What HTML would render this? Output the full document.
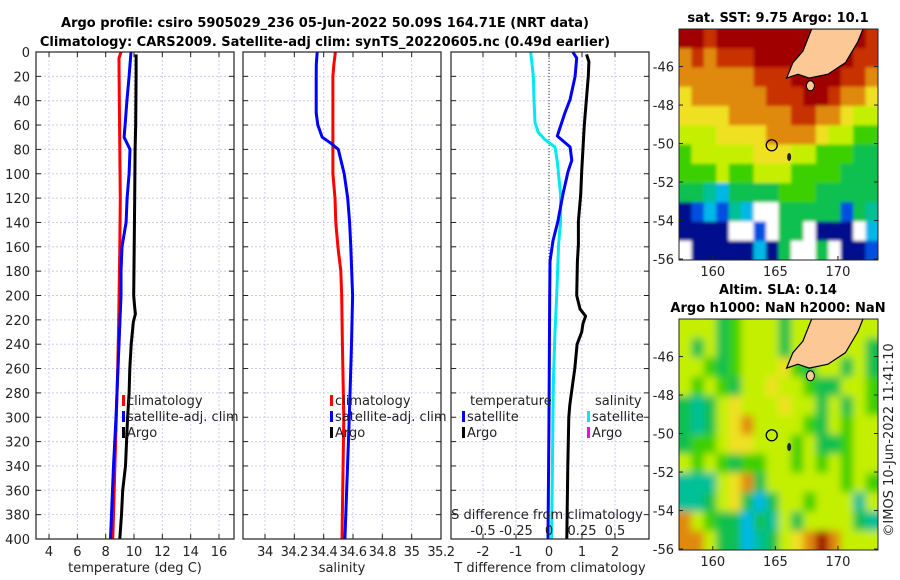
<!DOCTYPE html>
<html><head><meta charset="utf-8">
<style>
body{margin:0;background:#fff;}
svg{display:block;font-family:"DejaVu Sans","Liberation Sans",sans-serif;}
</style></head>
<body>
<svg id="fig" width="900" height="580" xmlns="http://www.w3.org/2000/svg">
<rect width="900" height="580" fill="#fff"/>
<text x="325" y="27" text-anchor="middle" font-size="13" font-weight="bold">Argo profile: csiro 5905029_236 05-Jun-2022 50.09S 164.71E (NRT data)</text>
<text x="325" y="46" text-anchor="middle" font-size="13" font-weight="bold">Climatology: CARS2009. Satellite-adj clim: synTS_20220605.nc (0.49d earlier)</text>
<text x="778" y="22" text-anchor="middle" font-size="13" font-weight="bold">sat. SST: 9.75 Argo: 10.1</text>
<text x="778" y="294" text-anchor="middle" font-size="13" font-weight="bold">Altim. SLA: 0.14</text>
<text x="778" y="312" text-anchor="middle" font-size="13" font-weight="bold">Argo h1000: NaN h2000: NaN</text>
<text transform="translate(893,440) rotate(-90)" text-anchor="middle" font-size="13" fill="#222">©IMOS 10-Jun-2022 11:41:10</text>
<g id="layer"></g>
</svg>
<script>
// ---- data ----
const depthTicks=[0,20,40,60,80,100,120,140,160,180,200,220,240,260,280,300,320,340,360,380,400];
const tempTicks=[4,6,8,10,12,14,16];
const salTicks=[34,34.2,34.4,34.6,34.8,35,35.2];
const salTickLabels=["34","34.2","34.4","34.6","34.8","35","35.2"];
const diffTicks=[-2,-1,0,1,2];
const sdiffTickLabels=["-0.5","-0.25","0","0.25","0.5"];
const sdiffTicks=[-0.5,-0.25,0,0.25,0.5];

const tClimDepth=[0,5,20,80,120,160,220,260,300,400];
const tClimVal=[9.08,8.94,8.95,9.0,9.03,9.0,8.92,8.85,8.75,8.5];
const tSatDepth=[0,20,40,60,70,80,100,120,140,160,180,200,220,240,260,280,300,340,400];
const tSatVal=[9.79,9.65,9.5,9.37,9.3,9.72,9.65,9.51,9.44,9.15,9.08,9.08,9.01,8.94,8.87,8.8,8.73,8.55,8.34];
const tArgoDepth=[2,20,60,80,120,160,200,210,215,222,240,260,280,300,340,360,380,400];
const tArgoVal=[10.15,10.15,10.12,10.08,10.05,10.01,9.98,10.05,10.1,9.95,9.8,9.7,9.65,9.55,9.4,9.2,9.12,9.0];

const sClimDepth=[0,10,20,100,120,140,160,180,200,240,300,400];
const sClimVal=[34.48,34.47,34.463,34.463,34.477,34.483,34.497,34.517,34.523,34.528,34.537,34.525];
const sSatDepth=[0,10,20,50,60,70,75,80,100,120,140,160,200,240,300,400];
const sSatVal=[34.356,34.35,34.349,34.349,34.36,34.39,34.45,34.5,34.54,34.564,34.577,34.585,34.597,34.59,34.575,34.545];

const dTSatDepth=[0,5,20,39,50,69,78,89,98,117,139,155,172,200,300,400];
const dTSatVal=[0.72,0.84,0.79,0.64,0.48,0.25,0.64,0.69,0.58,0.42,0.27,0.12,0.03,0.02,0.0,-0.03];
const dTArgoDepth=[2,8,20,60,98,117,139,158,172,200,211,217,223,230,240,260,270,290,300,340,400];
const dTArgoVal=[1.14,1.21,1.19,1.07,0.99,0.96,0.89,0.89,0.86,0.84,0.94,1.11,1.03,0.99,0.85,0.78,0.73,0.63,0.6,0.57,0.54];
const dSSatDepth=[0,20,39,58,66,72,78,90,117,139,158,200,230,270,400];
const dSSatVal=[-0.139,-0.119,-0.114,-0.106,-0.081,-0.03,0.045,0.063,0.088,0.088,0.073,0.058,0.045,0.033,0.02];

// map colour grids (rows = 1 deg lat, cols = 1 deg lon)
const sstRows=["RRrRRRRRRRRRRRRr","ororrrRRRRRRRRrr","oooooorrrRRRRrro","yoooooorrrRRrooy","yyyyooooorrooyll","lllyyyyooooyllgg","glllllyyyllgggGG","ggglgglllggggGGG","GGtcGGGGgggGGGGG","BbcbtcwwGGGGGbGt","BBBBwwbwGGwBBBwc","wBBBBBcBGwwGwBBb"];
const slaRows=["lllGglllGlllllll","lGlGglllGllllllG","llgGglllygGllGlG","lglgGllyllgGGllg","GtGlylllyllGlGlg","GtGlyollllgGlgll","GgglyylllglGGgll","lglgGggllglglgll","tttlyoGllllllglg","ttGlyGcGllgllltl","olgGGcGtlGllllGt","oolGGctGlyoRolll"];
const mapLonTicks=[160,165,170];
const mapLatTicks=[-46,-48,-50,-52,-54,-56];

// ---- helpers ----
const NS="http://www.w3.org/2000/svg";
const layer=document.getElementById('layer');
function mk(tag,attrs,parent){const e=document.createElementNS(NS,tag);for(const k in attrs)e.setAttribute(k,attrs[k]);(parent||layer).appendChild(e);return e;}
const top0=52,bot0=539;
const yD=d=>top0+(bot0-top0)*d/400;

function panel(name,x0,x1,lo,hi){
  const g=mk('g',{});
  
  
  return {g,x0,x1,sx:v=>x0+(x1-x0)*(v-lo)/(hi-lo)};
}
function grid(p,xt){
  xt.forEach(v=>{const x=p.sx(v);const l=mk('line',{x1:x,x2:x,y1:top0,y2:bot0,stroke:'#c8cdf0','stroke-dasharray':'2,2','stroke-width':1},p.g);
    });
  depthTicks.forEach(d=>{const y=yD(d);const l=mk('line',{x1:p.x0,x2:p.x1,y1:y,y2:y,stroke:'#c8cdf0','stroke-dasharray':'2,2','stroke-width':1},p.g);
    
    mk('line',{x1:p.x0,x2:p.x0+5,y1:y,y2:y,stroke:'#222'},p.g);mk('line',{x1:p.x1-5,x2:p.x1,y1:y,y2:y,stroke:'#222'},p.g);});
  xt.forEach(v=>{const x=p.sx(v);mk('line',{x1:x,x2:x,y1:bot0,y2:bot0-5,stroke:'#222'},p.g);mk('line',{x1:x,x2:x,y1:top0,y2:top0+5,stroke:'#222'},p.g);});
}
function frame(p){const r=mk('rect',{x:p.x0,y:top0,width:p.x1-p.x0,height:bot0-top0,fill:'none',stroke:'#222','stroke-width':1.2},p.g);
  }
function line(p,ds,vs,col,name,xf){
  const pts=ds.map((d,i)=>(xf?xf(vs[i]):p.sx(vs[i])).toFixed(1)+','+yD(d).toFixed(1)).join(' ');
  const l=mk('polyline',{points:pts,fill:'none',stroke:col,'stroke-width':3,'stroke-linejoin':'round'},p.g);
  
}
function txt(p,x,y,s,attrs,name){const t=mk('text',Object.assign({x,y,'font-size':13,fill:'#222'},attrs||{}),p.g);t.textContent=s;
  return t;}
function legend(p,x,y,items){items.forEach((it,i)=>{const yy=y+i*16;
  const m=mk('rect',{x:x,y:yy-10,width:3,height:11,fill:it[1]},p.g);
  
  txt(p,x+5,yy,it[0],{},'legend-entry');});}

// ---- panel 1 temperature ----
const p1=panel('temperature-panel',36,234,3.08,17.06);
grid(p1,tempTicks);
depthTicks.forEach(d=>txt(p1,30,yD(d)+5,String(d),{'text-anchor':'end'},'y-tick-label'));
tempTicks.forEach(v=>txt(p1,p1.sx(v),556,String(v),{'text-anchor':'middle'},'x-tick-label'));
txt(p1,135,572,'temperature (deg C)',{'text-anchor':'middle'},'x-axis-title');
line(p1,tClimDepth,tClimVal,'#f00','temp-climatology-line');
line(p1,tSatDepth,tSatVal,'#00f','temp-satellite-line');
line(p1,tArgoDepth,tArgoVal,'#000','temp-argo-line');
legend(p1,122,405,[['climatology','#f00'],['satellite-adj. clim','#00f'],['Argo','#000']]);
frame(p1);

// ---- panel 2 salinity ----
const p2=panel('salinity-panel',243,441,33.85,35.2);
grid(p2,salTicks);
salTicks.forEach((v,i)=>txt(p2,p2.sx(v),556,salTickLabels[i],{'text-anchor':'middle','letter-spacing':'-0.4'},'x-tick-label'));
txt(p2,342,572,'salinity',{'text-anchor':'middle'},'x-axis-title');
line(p2,sClimDepth,sClimVal,'#f00','sal-climatology-line');
line(p2,sSatDepth,sSatVal,'#00f','sal-satellite-line');
legend(p2,330,405,[['climatology','#f00'],['satellite-adj. clim','#00f'],['Argo','#000']]);
frame(p2);

// ---- panel 3 differences ----
const p3=panel('difference-panel',451,649,-2.97,3.03);
grid(p3,diffTicks);
const z=p3.sx(0);
const zl=mk('line',{x1:z,x2:z,y1:top0,y2:bot0,stroke:'#333','stroke-dasharray':'1,2','stroke-width':1},p3.g);

diffTicks.forEach(v=>txt(p3,p3.sx(v),556,String(v),{'text-anchor':'middle'},'x-tick-label'));
txt(p3,550,572,'T difference from climatology',{'text-anchor':'middle'},'x-axis-title');
const sdx=v=>p3.sx(v*4);
line(p3,dSSatDepth,dSSatVal,'#00e8f0','sal-diff-satellite-line',sdx);
line(p3,dTSatDepth,dTSatVal,'#00f','temp-diff-satellite-line');
line(p3,dTArgoDepth,dTArgoVal,'#000','temp-diff-argo-line');
txt(p3,470,405,'temperature',{},'legend-title-temperature');
txt(p3,595,405,'salinity',{},'legend-title-salinity');
legend(p3,462,421,[['satellite','#00f'],['Argo','#000']]);
legend(p3,587,421,[['satellite','#00e8f0'],['Argo','#f0f']]);
txt(p3,547,519,'S difference from climatology',{'text-anchor':'middle'},'s-diff-axis-title');
sdiffTicks.forEach((v,i)=>txt(p3,sdx(v),535,sdiffTickLabels[i],{'text-anchor':'middle'},'s-diff-tick-label'));
frame(p3);

// ---- maps ----
const pal={R:'#a00000',r:'#c83000',o:'#e08a10',y:'#f0e020',l:'#c4f000',g:'#3cd000',G:'#10c050',t:'#00c098',c:'#00b8e8',b:'#0050e0',B:'#00108c',w:'#ffffff'};
const defs=mk('defs',{});
const f=mk('filter',{id:'blur',x:'-5%',y:'-5%',width:'110%',height:'110%'},defs);
mk('feGaussianBlur',{stdDeviation:4,'edgeMode':'duplicate'},f);
const f2=mk('filter',{id:'blur2',x:'-5%',y:'-5%',width:'110%',height:'110%'},defs);
mk('feGaussianBlur',{stdDeviation:1.5,'edgeMode':'duplicate'},f2);
function map(name,x0,y0,y1,rows,blur,cid){
  const g=mk('g',{});
  
  const x1=878,W=x1-x0,H=y1-y0;
  const cp=mk('clipPath',{id:cid},defs);mk('rect',{x:x0,y:y0,width:W,height:H},cp);
  const outer=mk('g',{'clip-path':'url(#'+cid+')'},g);
  const cg=mk('g',{filter:blur?'url(#blur)':'url(#blur2)'},outer);
  const cw=W/16,ch=H/12;
  mk('rect',{x:x0-10,y:y0-10,width:W+20,height:H+20,fill:pal[rows[0][0]]},cg);
  rows.forEach((r,i)=>{for(let j=0;j<16;j++){
    const ex=j===0?-10:0, ew=(j===15?10:0)-ex, ey=i===0?-10:0, eh=(i===11?10:0)-ey;
    mk('rect',{x:x0+j*cw+ex,y:y0+i*ch+ey,width:cw+0.6+ew,height:ch+0.6+eh,fill:pal[r[j]]},cg);}});
  const sx=lon=>x0+W*(lon-157.3)/(173.2-157.3);
  const sy=lat=>y0+H*(-44.05-lat)/(12);
  const land=mk('polygon',{points:[[167.9,-44.05],[167.2,-45.2],[166.4,-45.8],[165.9,-46.6],[166.8,-46.4],[167.7,-46.6],[169.2,-46.4],[170.6,-45.8],[171.6,-44.7],[172,-44.05]].map(p=>sx(p[0])+','+sy(p[1])).join(' '),fill:'#fbc896',stroke:'#000','stroke-width':1.2},outer);
  
  const isl=mk('ellipse',{cx:sx(167.8),cy:sy(-47),rx:4,ry:5,fill:'#fbc896',stroke:'#000'},outer);
  
  mk('ellipse',{cx:sx(166.1),cy:sy(-50.7),rx:2,ry:4,fill:'#222'},outer);
  const c=mk('circle',{cx:sx(164.71),cy:sy(-50.09),r:5.5,fill:'none',stroke:'#000','stroke-width':1.3},outer);
  
  mk('rect',{x:x0,y:y0,width:W,height:H,fill:'none',stroke:'#222'},g);
  mapLonTicks.forEach(v=>{const x=sx(v);mk('line',{x1:x,x2:x,y1:y1,y2:y1-4,stroke:'#222'},g);
    const t=mk('text',{x,y:y1+16,'text-anchor':'middle','font-size':13,fill:'#222'},g);t.textContent=v;
    });
  mapLatTicks.forEach(v=>{const y=sy(v);mk('line',{x1:x0,x2:x0+4,y1:y,y2:y,stroke:'#222'},g);mk('line',{x1:x1-4,x2:x1,y1:y,y2:y,stroke:'#222'},g);
    const t=mk('text',{x:x0-5,y:y+5,'text-anchor':'end','font-size':13,fill:'#222'},g);t.textContent=v;
    });
}
map('sst-map',679,29,260,sstRows,false,'c1');
map('sla-map',679,319,550,slaRows,true,'c2');
</script>
</body></html>
